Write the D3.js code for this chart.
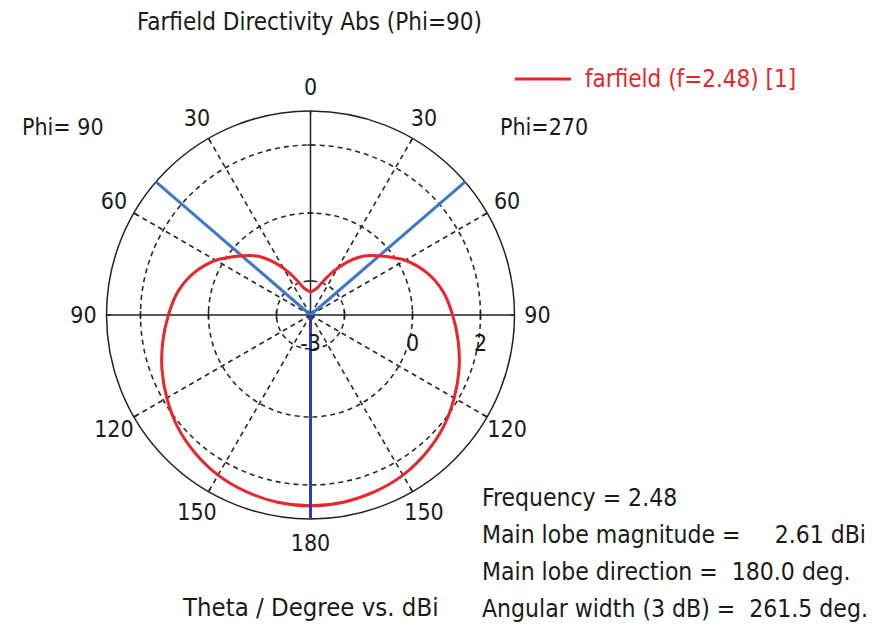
<!DOCTYPE html>
<html>
<head>
<meta charset="utf-8">
<script src="https://cdn.jsdelivr.net/npm/d3@7"></script>
<style>
  body { margin: 0; background: #fff; }
  svg text { font-family: "DejaVu Sans Condensed", "DejaVu Sans", sans-serif; fill: #1a1a1a; }
</style>
</head>
<body>
<svg id="chart" width="872" height="637"></svg>
<script>
var thetaDeg = [0, 5, 10, 15, 20, 25, 30, 35, 40, 45, 50, 55, 60, 70, 80, 90, 100, 110, 120, 130, 140, 150, 160, 170, 180];
var dirPhi270 = [-2.32, -2.29, -2.24, -2.15, -1.97, -1.71, -1.41, -1.09, -0.78, -0.53, -0.30, -0.05, 0.22, 0.64, 0.96, 1.18, 1.41, 1.65, 1.88, 2.11, 2.29, 2.44, 2.53, 2.59, 2.61];
var dirPhi90  = [-2.32, -2.29, -2.24, -2.15, -1.97, -1.71, -1.41, -1.09, -0.78, -0.53, -0.30, -0.05, 0.22, 0.64, 0.96, 1.18, 1.41, 1.65, 1.88, 2.11, 2.29, 2.44, 2.53, 2.59, 2.61];

var angleTicks = [0, 30, 60, 90, 120, 150, 180];
var gridSpokes = [30, 60, 120, 150];
var ringValues = [-2, 0, 2];
var radialLabels = [-3, 0, 2];
var radialDomain = [-3, 3];

var mainLobeDir = 180;
var beamEdges = [49.25, -49.25]; // 3 dB edges, 261.5 deg wide around 180

var infoLines = [
  ['Frequency = 2.48', ''],
  ['Main lobe magnitude =', '2.61 dBi'],
  ['Main lobe direction =  180.0 deg.', ''],
  ['Angular width (3 dB) =  261.5 deg.', '']
];

var cx = 310.5, cy = 315, R = 204;
var rad = Math.PI / 180;

var svg = d3.select('#chart');
var g = svg.append('g').attr('transform', 'translate(' + cx + ',' + cy + ')');

var r = d3.scaleLinear().domain(radialDomain).range([0, R]);

// polar -> xy, theta from top, clockwise positive (Phi=270 side on the right)
function px(a, rr) { return Math.sin(a * rad) * rr; }
function py(a, rr) { return -Math.cos(a * rad) * rr; }

// dashed rings
g.selectAll('.ring').data(ringValues).enter().append('circle')
  .attr('class', 'ring')
  .attr('r', function(d) { return r(d); })
  .attr('fill', 'none')
  .attr('stroke', '#2a2a2a')
  .attr('stroke-width', 1.6)
  .attr('stroke-dasharray', '5,4');

// dashed spokes, both sides
var spokes = [];
gridSpokes.forEach(function(a) { spokes.push(a); spokes.push(-a); });
g.selectAll('.spoke').data(spokes).enter().append('line')
  .attr('class', 'spoke')
  .attr('x1', 0).attr('y1', 0)
  .attr('x2', function(d) { return px(d, R); })
  .attr('y2', function(d) { return py(d, R); })
  .attr('stroke', '#2a2a2a')
  .attr('stroke-width', 1.6)
  .attr('stroke-dasharray', '5,4');

// outer circle
g.append('circle').attr('r', R).attr('fill', 'none').attr('stroke', '#222').attr('stroke-width', 1.5);

// solid axes
g.append('line').attr('x1', -R).attr('x2', R).attr('y1', 0).attr('y2', 0).attr('stroke', '#222').attr('stroke-width', 1.5);
g.append('line').attr('x1', 0).attr('x2', 0).attr('y1', -R).attr('y2', 0).attr('stroke', '#222').attr('stroke-width', 1.5);

// small ticks on the outer circle every 30 deg
var outerTicks = [];
angleTicks.forEach(function(a) { outerTicks.push(a); if (a > 0 && a < 180) outerTicks.push(-a); });
g.selectAll('.otick').data(outerTicks).enter().append('line')
  .attr('x1', function(d) { return px(d, R); })
  .attr('y1', function(d) { return py(d, R); })
  .attr('x2', function(d) { return px(d, R - 4); })
  .attr('y2', function(d) { return py(d, R - 4); })
  .attr('stroke', '#222').attr('stroke-width', 1.5);

// ring ticks on the axes
ringValues.forEach(function(v) {
  [-1, 1].forEach(function(s) {
    g.append('line').attr('x1', s * r(v)).attr('x2', s * r(v)).attr('y1', -4).attr('y2', 4)
      .attr('stroke', '#222').attr('stroke-width', 1.5);
  });
  g.append('line').attr('x1', -3).attr('x2', 3).attr('y1', -r(v)).attr('y2', -r(v))
    .attr('stroke', '#222').attr('stroke-width', 1.5);
});

// beam edge lines
g.selectAll('.edge').data(beamEdges).enter().append('line')
  .attr('x1', 0).attr('y1', 0)
  .attr('x2', function(d) { return px(d, R); })
  .attr('y2', function(d) { return py(d, R); })
  .attr('stroke', '#3b78cc')
  .attr('stroke-width', 3);

// pattern
var pts = [];
thetaDeg.forEach(function(t, i) { pts.push([t * rad, r(dirPhi270[i])]); });
for (var i = thetaDeg.length - 2; i > 0; i--) {
  pts.push([(360 - thetaDeg[i]) * rad, r(dirPhi90[i])]);
}
var lineR = d3.lineRadial().curve(d3.curveCatmullRomClosed.alpha(0.5));
g.append('path')
  .attr('d', lineR(pts))
  .attr('fill', 'none')
  .attr('stroke', '#e8262b')
  .attr('stroke-width', 3);

// main lobe direction
g.append('line')
  .attr('x1', 0).attr('y1', 0)
  .attr('x2', px(mainLobeDir, R)).attr('y2', py(mainLobeDir, R))
  .attr('stroke', '#2d3cbc')
  .attr('stroke-width', 3);

// angle labels
var angLabels = [];
angleTicks.forEach(function(a) { angLabels.push(a); if (a > 0 && a < 180) angLabels.push(-a); });
g.selectAll('.alabel').data(angLabels).enter().append('text')
  .attr('x', function(d) { return px(d, 227); })
  .attr('y', function(d) { return py(d, 228) + 8; })
  .attr('text-anchor', 'middle')
  .attr('font-size', 23)
  .text(function(d) { return Math.abs(d); });

// radial labels
g.selectAll('.rlabel').data(radialLabels).enter().append('text')
  .attr('x', function(d) { return r(d); })
  .attr('y', 36)
  .attr('text-anchor', 'middle')
  .attr('font-size', 23)
  .text(function(d) { return d; });

// title and side labels
svg.append('text').attr('x', 137).attr('y', 30).attr('font-size', 24).text('Farfield Directivity Abs (Phi=90)');
svg.append('text').attr('x', 22).attr('y', 135).attr('font-size', 23).text('Phi= 90');
svg.append('text').attr('x', 500).attr('y', 135).attr('font-size', 23).text('Phi=270');
svg.append('text').attr('x', 183).attr('y', 616).attr('font-size', 25.5).text('Theta / Degree vs. dBi');

// legend
var leg = svg.append('g').attr('transform', 'translate(515,79)');
leg.append('line').attr('x1', 0).attr('x2', 56).attr('y1', 0).attr('y2', 0).attr('stroke', '#e8262b').attr('stroke-width', 3);
leg.append('text').attr('x', 70).attr('y', 8).attr('font-size', 24).style('fill', '#e8262b').text('farfield (f=2.48) [1]');

// info block
var info = svg.append('g');
infoLines.forEach(function(l, i) {
  info.append('text').attr('x', 482).attr('y', 506 + i * 37).attr('font-size', 24.5).attr('xml:space', 'preserve').text(l[0]);
  if (l[1]) info.append('text').attr('x', 866).attr('y', 506 + i * 37).attr('font-size', 24.5).attr('text-anchor', 'end').text(l[1]);
});
</script>
</body>
</html>
